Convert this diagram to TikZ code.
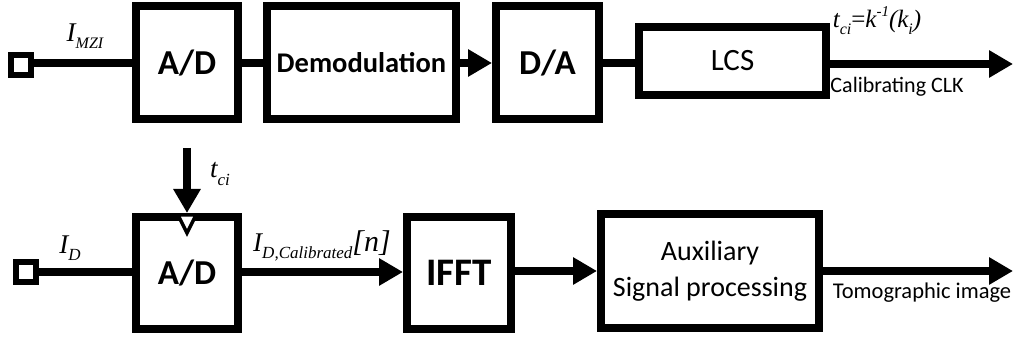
\documentclass[tikz,border=0pt]{standalone}
\usepackage{fontspec}
\setmainfont{Carlito}
\newfontfamily\tnr{Liberation Serif}
\usetikzlibrary{arrows.meta}
\newcommand{\fs}[1]{\fontsize{#1}{#1}\selectfont}
\newcommand{\lsub}[2]{\raisebox{-0.28em}{\fs{#1}#2}}
\newcommand{\lsup}[2]{\raisebox{0.45em}{\fs{#1}#2}}
\begin{document}
\begin{tikzpicture}[x=1pt,y=-1pt,
  blk/.style={draw, line width=8pt, rectangle, inner sep=0pt, align=center},
  port/.style={draw, line width=6pt, rectangle, inner sep=0pt, minimum size=20pt},
  conn/.style={line width=8pt},
  arr/.style={line width=8pt, -{Triangle[length=24pt,width=26pt]}},
  lbl/.style={inner sep=0pt},
  mlbl/.style={inner sep=0pt, font=\tnr\itshape\fs{27}},
]
\useasboundingbox (0,0) rectangle (1017,339);

% top row
\node[port] (p1) at (21,65) {};
\node[blk, minimum width=102pt, minimum height=113pt, font=\bfseries\fs{35}] (ad1) at (187,63) {A/D};
\node[blk, minimum width=189pt, minimum height=113pt, font=\bfseries\fs{28.5}] (dem) at (361.5,63) {Demodulation};
\node[blk, minimum width=103pt, minimum height=113pt, font=\bfseries\fs{35}] (da) at (547.5,63) {D/A};
\node[blk, minimum width=187pt, minimum height=68pt, font=\fs{31}] (lcs) at (732.5,61) {LCS};
\coordinate (clk) at (1013,64);

\draw[conn] (p1.east |- ad1.west) -- (ad1.west);
\draw[conn] (ad1.east) -- (dem.west);
\draw[arr] (dem.east) -- (da.west);
\draw[conn] (da.east) -- (lcs.west |- da.east);
\draw[arr] (lcs.east |- clk) -- (clk);

\node[mlbl] (limzi) at (85,36) {I\lsub{16}{MZI}};
\node[mlbl, font=\tnr\itshape\fs{25}] (ltci) at (877,21) {t\lsub{16}{ci}{\upshape=}k\lsup{15}{-1}(k\lsub{16}{i})};
\node[lbl, font=\fs{22}] (lclk) at (897,87) {Calibrating CLK};

% bottom row
\node[port] (p2) at (25.5,272) {};
\node[blk, minimum width=102pt, minimum height=112pt, font=\bfseries\fs{35}] (ad2) at (187,273) {A/D};
\node[blk, minimum width=104pt, minimum height=112pt, font=\bfseries\fs{39}] (ifft) at (459,273) {IFFT};
\node[blk, minimum width=218pt, minimum height=114pt, font=\fs{28}] (aux) at (710,271) {Auxiliary\\[8pt]Signal processing};
\coordinate (tc) at (187,148);
\coordinate (tomo) at (1013,271);

\draw[conn] (p2.east) -- (ad2.west |- p2.east);
\draw[arr] (ad2.east |- p2.east) -- (ifft.west |- p2.east);
\draw[arr] (ifft.east |- aux.west) -- (aux.west);
\draw[arr] (aux.east) -- (tomo);
\draw[arr] (tc) -- (ad2.north);
\draw[line width=3.5pt, fill=white, line join=miter]
  ([xshift=-9pt,yshift=-2pt]ad2.north) -- ([xshift=9pt,yshift=-2pt]ad2.north) -- ([yshift=-20pt]ad2.north) -- cycle;

\node[mlbl] (ltc2) at (220,174) {t\lsub{17}{ci}};
\node[mlbl] (lid) at (70,248) {I\lsub{17}{D}};
\node[mlbl] (lidc) at (322,246) {I\lsub{17}{D,Calibrated}{\fs{30}[n]}};
\node[lbl, font=\fs{22.5}] (ltomo) at (922,293) {Tomographic image};
\end{tikzpicture}
\end{document}
